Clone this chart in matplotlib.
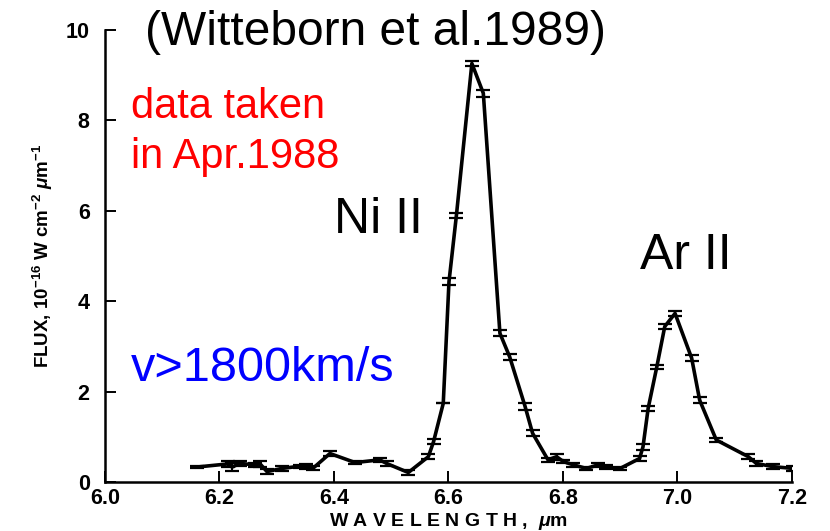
import matplotlib.pyplot as plt

# SN 1987A mid-IR spectrum, Ni II and Ar II lines
wavelength = [6.160, 6.215, 6.222, 6.236, 6.262, 6.271, 6.283, 6.309, 6.341,
              6.352, 6.364, 6.393, 6.437, 6.480, 6.492, 6.530, 6.565, 6.574,
              6.591, 6.601, 6.614, 6.641, 6.661, 6.690, 6.707, 6.734, 6.747,
              6.774, 6.789, 6.801, 6.818, 6.841, 6.862, 6.876, 6.900, 6.934,
              6.940, 6.949, 6.964, 6.978, 6.996, 7.025, 7.039, 7.068, 7.124,
              7.138, 7.167, 7.202]
flux = [0.33, 0.40, 0.33, 0.41, 0.38, 0.40, 0.23, 0.30, 0.35,
        0.34, 0.31, 0.63, 0.43, 0.49, 0.41, 0.21, 0.56, 0.89,
        1.74, 4.43, 5.90, 9.26, 8.60, 3.29, 2.77, 1.67, 1.08,
        0.49, 0.56, 0.45, 0.38, 0.30, 0.38, 0.33, 0.30, 0.52,
        0.78, 1.63, 2.54, 3.44, 3.73, 2.74, 1.81, 0.93, 0.56,
        0.41, 0.34, 0.30]
flux_err = [0.03, 0.07, 0.08, 0.06, 0.05, 0.07, 0.05, 0.05, 0.03,
            0.05, 0.05, 0.06, 0.04, 0.04, 0.05, 0.05, 0.05, 0.06,
            0.00, 0.08, 0.06, 0.06, 0.08, 0.07, 0.06, 0.08, 0.06,
            0.05, 0.07, 0.04, 0.04, 0.04, 0.05, 0.05, 0.04, 0.05,
            0.07, 0.06, 0.04, 0.05, 0.05, 0.07, 0.06, 0.05, 0.05,
            0.05, 0.05, 0.05]

xticks = [6.0, 6.2, 6.4, 6.6, 6.8, 7.0, 7.2]
yticks = [0, 2, 4, 6, 8, 10]

plt.rcParams['font.family'] = ['Liberation Sans', 'DejaVu Sans']
plt.rcParams['mathtext.fontset'] = 'custom'
plt.rcParams['mathtext.it'] = 'Liberation Sans:italic:bold'
plt.rcParams['mathtext.rm'] = 'Liberation Sans:bold'

fig = plt.figure(figsize=(8.3, 5.31), dpi=100)
ax = fig.add_axes([0.1265, 0.0923, 0.8275, 0.8512])

ax.errorbar(wavelength, flux, yerr=flux_err, color='black', linewidth=2.6,
            elinewidth=1.5, capsize=5, capthick=1.6)

ax.set_xlim(6.0, 7.2)
ax.set_ylim(0, 10)
ax.spines['top'].set_visible(False)
ax.spines['right'].set_visible(False)
ax.spines['left'].set_linewidth(1.8)
ax.spines['bottom'].set_linewidth(1.8)
ax.set_xticks(xticks)
ax.set_xticklabels(['%.1f' % t for t in xticks])
ax.set_yticks(yticks)
ax.tick_params(direction='in', length=8, width=1.4, labelsize=15.5)
ax.tick_params(axis='x', pad=4)
ax.tick_params(axis='y', pad=11)
for lab in ax.get_xticklabels() + ax.get_yticklabels():
    lab.set_fontweight('bold')

ax.set_xlabel('W A V E L E N G T H ,  $\\mu$m', fontsize=14, fontweight='bold',
              labelpad=2)
ax.set_ylabel('FLUX, 10$^{-16}$ W cm$^{-2}$ $\\mu$m$^{-1}$', fontsize=13.5,
              fontweight='bold', labelpad=8)

ax.text(6.07, 9.95, '(Witteborn et al.1989)', fontsize=34.5, color='black',
        ha='left', va='center', clip_on=False)
ax.text(6.045, 8.3, 'data taken', fontsize=30, color='red', ha='left', va='center')
ax.text(6.045, 7.2, 'in Apr.1988', fontsize=30, color='red', ha='left', va='center')
ax.text(6.40, 5.8, 'Ni II', fontsize=36, color='black', ha='left', va='center')
ax.text(6.935, 5.0, 'Ar II', fontsize=36, color='black', ha='left', va='center')
ax.text(6.045, 2.5, 'v>1800km/s', fontsize=35, color='blue', ha='left', va='center')

fig.savefig('out.png', dpi=100)
